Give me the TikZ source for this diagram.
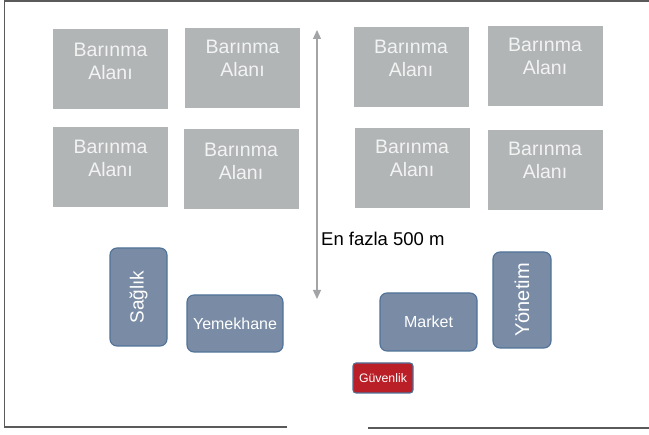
\documentclass[tikz,border=0pt]{standalone}
\usepackage{fontspec}
\setmainfont{Liberation Sans}
\usetikzlibrary{arrows.meta, positioning}
\definecolor{alangray}{HTML}{B2B5B6}
\definecolor{alantxt}{HTML}{F2F3F3}
\definecolor{birimfill}{HTML}{7A8CA5}
\definecolor{birimline}{HTML}{4F7298}
\definecolor{guvred}{HTML}{BA1E26}
\definecolor{okgray}{HTML}{A2A4A6}
\definecolor{randgray}{HTML}{5A5A5A}
\tikzstyle{alan}=[fill=alangray,rectangle,inner sep=0pt,minimum width=115pt,minimum height=80pt]
\tikzstyle{alantext}=[text=alantxt,align=center,inner sep=0pt,font=\fontsize{19.5}{23}\selectfont]
\tikzstyle{birim}=[draw=birimline,fill=birimfill,line width=1.1pt,rounded corners=7pt,text=white,inner sep=0pt]
\tikzstyle{rand}=[draw=randgray,line width=1.4pt]

\begin{document}
\begin{tikzpicture}[x=1pt,y=-1pt,>={Triangle[width=8pt,length=9pt]}]
  \useasboundingbox (0,0) rectangle (649,435);
  % frame
  \draw[rand] (287,427) -- (4.5,427) -- (4.5,1) -- (649,1);
  \draw[rand] (368,428) -- (649,428);
  % left block
  \node[alan] (alan1) at (110.5,69) {};
  \node[alantext] at ([yshift=8pt]alan1.center) {Barınma\\Alanı};
  \node[alan] (alan2) at (242.5,68.5) {};
  \node[alantext] at ([yshift=10pt]alan2.center) {Barınma\\Alanı};
  \node[alan] (alan3) at (110.5,167.5) {};
  \node[alantext] at ([yshift=9pt]alan3.center) {Barınma\\Alanı};
  \node[alan] (alan4) at (241,169) {};
  \node[alantext] at ([yshift=8pt]alan4.center) {Barınma\\Alanı};
  % right block
  \node[alan] (alan5) at (411,67.5) {};
  \node[alantext] at ([yshift=9pt]alan5.center) {Barınma\\Alanı};
  \node[alan] (alan6) at (545,66.5) {};
  \node[alantext] at ([yshift=10pt]alan6.center) {Barınma\\Alanı};
  \node[alan] (alan7) at (412,168.5) {};
  \node[alantext] at ([yshift=10pt]alan7.center) {Barınma\\Alanı};
  \node[alan] (alan8) at (545,170) {};
  \node[alantext] at ([yshift=10pt]alan8.center) {Barınma\\Alanı};
  % distance
  \coordinate (ustuc) at (317,30);
  \coordinate (altuc) at (317,299);
  \draw[<->,draw=okgray,fill=okgray,line width=1.3pt] (altuc) -- (ustuc);
  \node[anchor=west,inner sep=0pt,font=\fontsize{18.5}{22}\selectfont] (mesafe) at (321,239) {En fazla 500 m};
  % services
  \node[birim, rotate=90, minimum width=98pt, minimum height=57pt, font=\fontsize{19}{22}\selectfont] (saglik) at (138.5,297) {Sağlık};
  \node[birim, minimum width=96pt, minimum height=57pt, font=\fontsize{16}{19}\selectfont] (yemek) at (235,323.5) {Yemekhane};
  \node[birim, minimum width=97pt, minimum height=58pt, font=\fontsize{16}{19}\selectfont] (market) at (428.5,322) {Market};
  \node[birim, rotate=90, minimum width=96pt, minimum height=58pt, font=\fontsize{20}{23}\selectfont] (yonetim) at (522,300) {Yönetim};
  \node[birim, fill=guvred, rounded corners=3pt, minimum width=60pt, minimum height=30pt, font=\fontsize{12.3}{14}\selectfont] (guvenlik) at (383,378) {Güvenlik};
\end{tikzpicture}
\end{document}
